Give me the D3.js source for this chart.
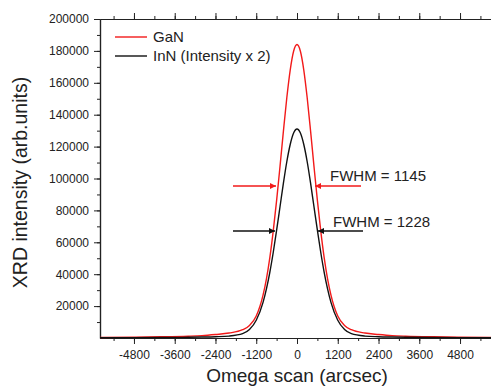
<!DOCTYPE html>
<html><head><meta charset="utf-8">
<script src="https://cdn.jsdelivr.net/npm/d3@7"></script>
<style>
html,body{margin:0;padding:0;background:#fff;overflow:hidden}
text{font-family:"Liberation Sans",Arial,sans-serif;fill:#222}
</style></head>
<body><svg id="c" width="491" height="387"></svg>
<script>
const omega = [-5800,-4800,-4000,-3200,-2800,-2400,-2000,-1600,-1400,-1200,-1000,-900,-800,-700,-600,-500,-400,-300,-200,-100,0,
               100,200,300,400,500,600,700,800,900,1000,1200,1400,1600,2000,2400,2800,3200,4000,4800,5800];
const ganValues = [355,520,740,1140,1500,2200,3100,5200,7900,13800,26900,37100,50400,67000,86300,107600,129700,150600,168000,179800,184000,
                   179800,168000,150600,129700,107600,86300,67000,50400,37100,26900,13800,7900,5200,3100,2200,1500,1140,740,520,355];
const innValues = [145,210,300,460,600,800,1200,2700,5300,11100,22300,30800,41200,53600,67600,82300,97100,110500,121300,128500,131000,
                   128500,121300,110500,97100,82300,67600,53600,41200,30800,22300,11100,5300,2700,1200,800,600,460,300,210,145];
const seriesNames = ["GaN","InN (Intensity x 2)"];
const xTickValues = [-4800,-3600,-2400,-1200,0,1200,2400,3600,4800];
const yTickValues = [20000,40000,60000,80000,100000,120000,140000,160000,180000,200000];
const fwhmLabels = ["FWHM = 1145","FWHM = 1228"];
const arrowLevels = [95300, 67100];
const arrowOuter = [[-1885,1885],[-1885,1944]];
const arrowTips = [[-618,530],[-648,618]];
const labelPos = [[972,98400],[1060,69600]];

const colors = ["#f21a1a","#111"];
const svg = d3.select("#c");
const L=100, R=494, T=19, B=338;
const x = d3.scaleLinear().domain([-5800,5800]).range([L,R]);
const y = d3.scaleLinear().domain([0,200000]).range([B,T]);
const fmt = d => String(d);

const xMinor = d3.range(-5400,5401,600);
const yMinor = d3.range(10000,200001,10000);

const gB = svg.append("g").attr("transform",`translate(0,${B})`);
gB.call(d3.axisBottom(x).tickValues(xMinor).tickFormat("").tickSize(3).tickSizeOuter(0));
gB.append("g").call(d3.axisBottom(x).tickValues(xTickValues).tickFormat(fmt).tickSize(6).tickSizeOuter(0).tickPadding(6));
const gT = svg.append("g").attr("transform",`translate(0,${T})`);
gT.call(d3.axisTop(x).tickValues(xMinor).tickFormat("").tickSize(3).tickSizeOuter(0));
gT.append("g").call(d3.axisTop(x).tickValues(xTickValues).tickFormat("").tickSize(6).tickSizeOuter(0));
const gL = svg.append("g").attr("transform",`translate(${L},0)`);
gL.call(d3.axisLeft(y).tickValues(yMinor).tickFormat("").tickSize(3).tickSizeOuter(0));
gL.append("g").call(d3.axisLeft(y).tickValues(yTickValues).tickFormat(fmt).tickSize(6).tickSizeOuter(0).tickPadding(5));
const gR = svg.append("g").attr("transform",`translate(${R},0)`);
gR.call(d3.axisRight(y).tickValues(yMinor).tickFormat("").tickSize(3).tickSizeOuter(0));

svg.selectAll(".domain").attr("stroke","#222").attr("stroke-width",1.2);
svg.selectAll(".tick line").attr("stroke","#222");
svg.selectAll(".tick text").attr("font-size","12px").attr("fill","#222").attr("font-family","Liberation Sans, Arial, sans-serif");

const line = d3.line().x((d,i)=>x(omega[i])).y(d=>y(d)).curve(d3.curveMonotoneX);
[ganValues, innValues].forEach((vals,k)=>{
  svg.append("path").attr("d",line(vals)).attr("fill","none")
    .attr("stroke",colors[k]).attr("stroke-width",1.4);
});

const lg = svg.append("g");
seriesNames.forEach((n,k)=>{
  const yy = T + 18 + k*19;
  lg.append("line").attr("x1",L+15).attr("x2",L+47).attr("y1",yy).attr("y2",yy)
    .attr("stroke",colors[k]).attr("stroke-width",1.4);
  lg.append("text").attr("x",L+53).attr("y",yy+5).attr("font-size","15px").text(n);
});

const defs = svg.append("defs");
colors.forEach((c,k)=>{
  defs.append("marker").attr("id","ah"+k).attr("viewBox","0 0 10 10").attr("refX",10).attr("refY",5)
    .attr("markerWidth",8).attr("markerHeight",6).attr("markerUnits","userSpaceOnUse").attr("orient","auto")
    .append("path").attr("d","M0,0L10,5L0,10Z").attr("fill",c);
});
arrowLevels.forEach((lv,k)=>{
  [0,1].forEach(s=>{
    svg.append("line").attr("x1",x(arrowOuter[k][s])).attr("x2",x(arrowTips[k][s]))
      .attr("y1",y(lv)).attr("y2",y(lv)).attr("stroke",colors[k]).attr("stroke-width",1.3)
      .attr("marker-end",`url(#ah${k})`);
  });
  svg.append("text").attr("x",x(labelPos[k][0])).attr("y",y(labelPos[k][1]))
    .attr("font-size","15px").text(fwhmLabels[k]);
});

svg.append("text").attr("x",x(0)).attr("y",382).attr("text-anchor","middle")
  .attr("font-size","19px").text("Omega scan (arcsec)");
svg.append("text").attr("transform",`translate(27,${(T+B)/2+4}) rotate(-90)`).attr("text-anchor","middle")
  .attr("font-size","19.5px").text("XRD intensity (arb.units)");
</script></body></html>
